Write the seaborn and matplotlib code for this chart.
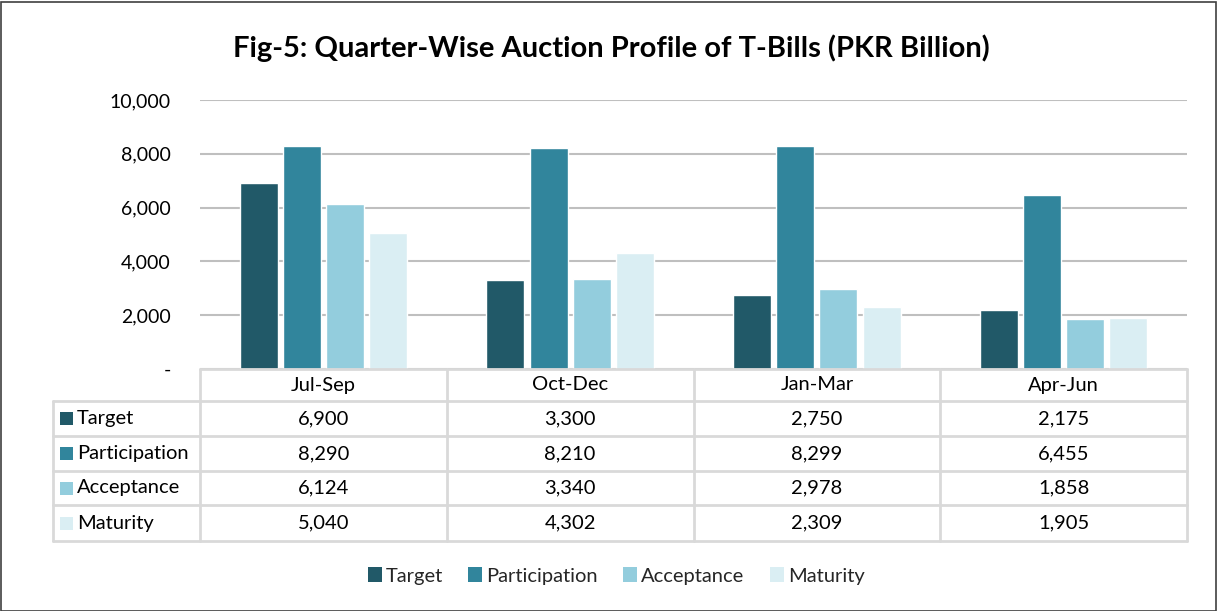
import matplotlib
matplotlib.use("Agg")
import matplotlib.pyplot as plt
import seaborn as sns
import pandas as pd
from matplotlib.patches import Rectangle
from matplotlib.lines import Line2D

quarters = ["Jul-Sep", "Oct-Dec", "Jan-Mar", "Apr-Jun"]
series = ["Target", "Participation", "Acceptance", "Maturity"]
target = [6900, 3300, 2750, 2175]
participation = [8290, 8210, 8299, 6455]
acceptance = [6124, 3340, 2978, 1858]
maturity = [5040, 4302, 2309, 1905]
yticks = [0, 2000, 4000, 6000, 8000, 10000]
title = "Fig-5: Quarter-Wise Auction Profile of T-Bills (PKR Billion)"
colors = ["#215968", "#31859C", "#93CDDD", "#DAEEF3"]

values = [target, participation, acceptance, maturity]
df = pd.DataFrame({
    "Quarter": quarters * 4,
    "Series": [s for s in series for _ in quarters],
    "Value": [v for vals in values for v in vals],
})

sns.set_theme(style="white")
plt.rcParams['font.family'] = ['Lato', 'DejaVu Sans']

W, H = 1217, 611
fig = plt.figure(figsize=(W / 100, H / 100), dpi=100)

def fx(x):
    return x / W

def fy(y):
    return 1 - y / H

ax_l, ax_r, ax_t, ax_b = 200, 1187, 100, 369
ax = fig.add_axes([fx(ax_l), fy(ax_b), fx(ax_r - ax_l), (ax_b - ax_t) / H])
sns.barplot(data=df, x="Quarter", y="Value", hue="Series", palette=colors,
            width=0.7, gap=0.12, ax=ax, legend=False, saturation=1,
            order=quarters, hue_order=series)
ax.set_ylim(0, 10000)
ax.set_xlim(-0.5, 3.5)
ax.set_yticks(yticks)
ax.set_yticklabels([f"{t:,}" if t else "-" for t in yticks], fontsize=14, color="#000000")
ax.set_xticks([])
ax.set_xlabel("")
ax.set_ylabel("")
ax.yaxis.grid(True, color="#BFBFBF", linewidth=1.5)
ax.set_axisbelow(True)
for s in ax.spines.values():
    s.set_visible(False)
ax.tick_params(axis="y", length=0, pad=21)

# Title
fig.text(fx(611), fy(48), title, ha="center", va="center", fontsize=21,
         fontweight="bold", color="#000000")

# Data table
line_c = "#D9D9D9"
col_x = [200, 446.75, 693.5, 940.25, 1187]
row_y = [369, 401, 436, 471, 505, 541]
left_x = 53

def hline(x0, x1, y):
    fig.add_artist(Line2D([fx(x0), fx(x1)], [fy(y), fy(y)], color=line_c, lw=2))

def vline(x, y0, y1):
    fig.add_artist(Line2D([fx(x), fx(x)], [fy(y0), fy(y1)], color=line_c, lw=2))

hline(col_x[0], col_x[-1], row_y[0])
for y in row_y[1:]:
    hline(left_x, col_x[-1], y)
vline(left_x, row_y[1], row_y[-1])
for x in col_x:
    vline(x, row_y[0], row_y[-1])

fs_tab = 14.5
for i, q in enumerate(quarters):
    cx = (col_x[i] + col_x[i + 1]) / 2
    fig.text(fx(cx), fy((row_y[0] + row_y[1]) / 2), q, ha="center", va="center",
             fontsize=fs_tab, color="#000000")
for r, (name, vals) in enumerate(zip(series, values)):
    cy = (row_y[r + 1] + row_y[r + 2]) / 2
    fig.add_artist(Rectangle((fx(60), fy(cy + 6.5)), fx(13), 13 / H,
                             facecolor=colors[r], edgecolor="none"))
    fig.text(fx(77), fy(cy), name, ha="left", va="center", fontsize=fs_tab, color="#000000")
    for i, v in enumerate(vals):
        cx = (col_x[i] + col_x[i + 1]) / 2
        fig.text(fx(cx), fy(cy), f"{v:,}", ha="center", va="center",
                 fontsize=fs_tab, color="#000000")

# Legend
handles = [Rectangle((0, 0), 1, 1, facecolor=c, edgecolor="none") for c in colors]
fig.legend(handles, series, loc="center", bbox_to_anchor=(fx(616), fy(576)),
           ncol=4, frameon=False, fontsize=14.5, handlelength=0.7, handleheight=0.7,
           handletextpad=0.2, columnspacing=1.25)

# Outer border
fig.add_artist(Rectangle((0.5 / W, 0.5 / H), 1 - 2 / W, 1 - 2 / H, transform=fig.transFigure,
                         facecolor="none", edgecolor="#404040", lw=1.2))

fig.savefig("out.png", dpi=100)
